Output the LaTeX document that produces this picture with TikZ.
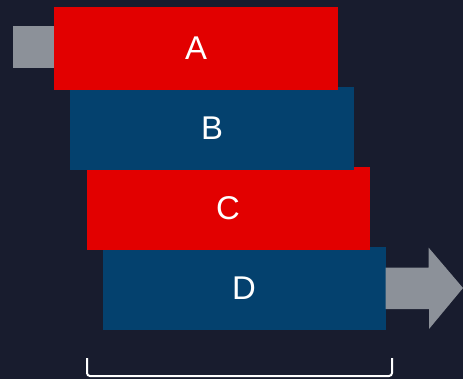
\documentclass[tikz,border=0pt]{standalone}
\usepackage{fontspec}
\setmainfont{Liberation Sans}
\usetikzlibrary{positioning}
\definecolor{stackbg}{RGB}{24,28,46}
\definecolor{stackred}{RGB}{226,0,0}
\definecolor{stackblue}{RGB}{4,65,110}
\definecolor{stackgray}{RGB}{140,145,153}

\begin{document}
\begin{tikzpicture}[
  x=1bp, y=-1bp,
  node distance=-3bp,
  layer/.style={rectangle, outer sep=0pt, inner sep=0pt, minimum width=283bp, minimum height=83bp, text=white, font=\fontsize{33}{36}\selectfont},
  redlayer/.style={layer, fill=stackred},
  bluelayer/.style={layer, fill=stackblue},
  inbox/.style={rectangle, outer sep=0pt, inner sep=0pt, minimum size=42bp, fill=stackgray}
]
\fill[stackbg] (0,0) rectangle (463,379);
\useasboundingbox (0,0) rectangle (463,379);

% stack, bottom layer first so upper ones lie on top
\node[bluelayer] (D) at (244,288.5) {D};
\node[redlayer, above=of D, xshift=-16bp] (C) {C};
\node[bluelayer, above=of C, xshift=-16bp] (B) {B};
\node[inbox] (in) at (34,47) {};
\node[redlayer, above=of B, xshift=-16bp] (A) {A};

% output arrow
\fill[stackgray] (D.east) ++(0,-21) -- ++(43,0) -- ++(0,-20) -- (463,288)
  -- (429,329) -- (429,309) -- (D.east |- 0,309) -- cycle;

% bracket under the stack
\coordinate (bl) at (87,358);
\coordinate (br) at (392,358);
\draw[white, line width=2bp, rounded corners=3bp] (bl) -- ++(0,18) -| (br);
\end{tikzpicture}
\end{document}
